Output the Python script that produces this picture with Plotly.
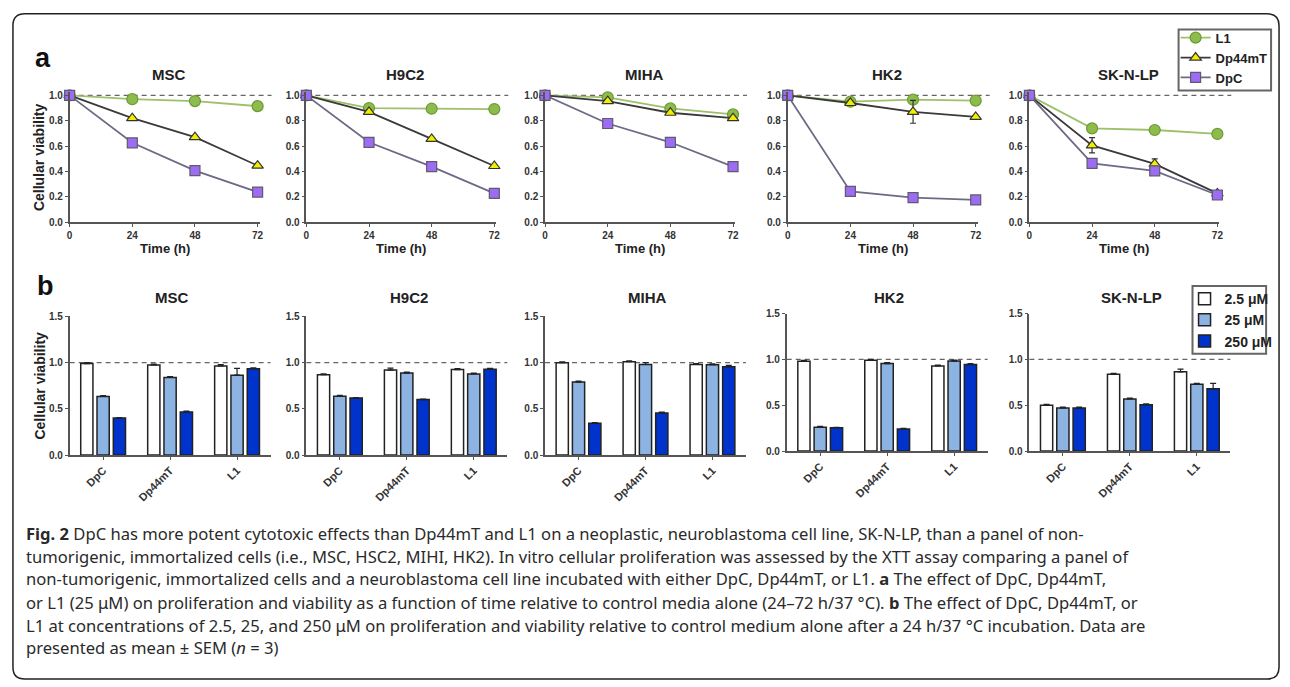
import plotly.graph_objects as go

# ---------------- data ----------------
CELLS = ["MSC", "H9C2", "MIHA", "HK2", "SK-N-LP"]
TIMES = [0, 24, 48, 72]
TIME_TICKS = [0, 24, 48, 72]

# Panel a: viability vs time (25 uM), one row per cell line
L1_TIME = [
    [1.0, 0.970, 0.955, 0.915],
    [1.0, 0.900, 0.895, 0.892],
    [1.0, 0.985, 0.897, 0.850],
    [1.0, 0.950, 0.966, 0.959],
    [1.0, 0.740, 0.727, 0.696],
]
L1_TIME_ERR = [
    [0, 0.010, 0.035, 0.030],
    [0, 0.020, 0.010, 0.010],
    [0, 0.015, 0.010, 0.010],
    [0, 0.010, 0.010, 0.010],
    [0, 0.010, 0.010, 0.010],
]
DP44_TIME = [
    [1.0, 0.820, 0.670, 0.446],
    [1.0, 0.870, 0.657, 0.443],
    [1.0, 0.954, 0.863, 0.820],
    [1.0, 0.940, 0.870, 0.830],
    [1.0, 0.606, 0.459, 0.227],
]
DP44_TIME_ERR = [
    [0, 0.010, 0.010, 0.010],
    [0, 0.015, 0.010, 0.010],
    [0, 0.010, 0.010, 0.010],
    [0, 0.015, 0.090, 0.010],
    [0, 0.060, 0.040, 0.010],
]
DPC_TIME = [
    [1.0, 0.626, 0.407, 0.237],
    [1.0, 0.630, 0.438, 0.227],
    [1.0, 0.778, 0.630, 0.438],
    [1.0, 0.242, 0.193, 0.175],
    [1.0, 0.464, 0.405, 0.214],
]
DPC_TIME_ERR = [
    [0, 0.010, 0.010, 0.010],
    [0, 0.010, 0.010, 0.010],
    [0, 0.010, 0.030, 0.010],
    [0, 0.010, 0.010, 0.010],
    [0, 0.030, 0.010, 0.010],
]

# Panel b: viability at 24 h by drug and concentration
DRUGS = ["DpC", "Dp44mT", "L1"]
CONC_NAMES = ["2.5 μM", "25 μM", "250 μM"]
CONC_2_5 = [
    [0.990, 0.975, 0.964],
    [0.870, 0.920, 0.925],
    [1.000, 1.010, 0.980],
    [0.980, 0.990, 0.929],
    [0.500, 0.839, 0.864],
]
CONC_25 = [
    [0.634, 0.840, 0.864],
    [0.637, 0.887, 0.878],
    [0.790, 0.980, 0.978],
    [0.260, 0.954, 0.982],
    [0.471, 0.568, 0.729],
]
CONC_250 = [
    [0.400, 0.466, 0.935],
    [0.616, 0.600, 0.928],
    [0.345, 0.455, 0.956],
    [0.255, 0.242, 0.943],
    [0.471, 0.504, 0.679],
]
ERR_2_5 = [
    [0.010, 0.010, 0.015],
    [0.010, 0.020, 0.010],
    [0.010, 0.010, 0.010],
    [0.010, 0.010, 0.010],
    [0.010, 0.010, 0.030],
]
ERR_25 = [
    [0.010, 0.010, 0.075],
    [0.010, 0.010, 0.010],
    [0.010, 0.020, 0.010],
    [0.010, 0.010, 0.010],
    [0.010, 0.010, 0.010],
]
ERR_250 = [
    [0.005, 0.010, 0.010],
    [0.005, 0.005, 0.010],
    [0.005, 0.010, 0.015],
    [0.005, 0.005, 0.010],
    [0.010, 0.010, 0.060],
]

CAPTION_LINES = [
    "<b>Fig. 2</b> DpC has more potent cytotoxic effects than Dp44mT and L1 on a neoplastic, neuroblastoma cell line, SK-N-LP, than a panel of non-",
    "tumorigenic, immortalized cells (i.e., MSC, HSC2, MIHI, HK2). In vitro cellular proliferation was assessed by the XTT assay comparing a panel of",
    "non-tumorigenic, immortalized cells and a neuroblastoma cell line incubated with either DpC, Dp44mT, or L1. <b>a</b> The effect of DpC, Dp44mT,",
    "or L1 (25 μM) on proliferation and viability as a function of time relative to control media alone (24–72 h/37 °C). <b>b</b> The effect of DpC, Dp44mT, or",
    "L1 at concentrations of 2.5, 25, and 250 μM on proliferation and viability relative to control medium alone after a 24 h/37 °C incubation. Data are",
    "presented as mean ± SEM (<i>n</i> = 3)",
]

# ---------------- layout geometry (pixels) ----------------
W, H = 1290, 687


def fx(p):
    return p / W


def fy(p):
    return 1 - p / H


A_LEFT = [67, 305, 545, 789, 1032]
A_WIDTH = 191
A_TOP, A_BOTTOM = 88, 220
A_DASH = 203
B_LEFT = [67, 305, 545, 788, 1032]
B_WIDTH = 202
B_TOP = [316, 316, 316, 313, 313]
B_BOTTOM = [457, 457, 457, 453, 453]

FONT = "Liberation Sans, Arial, sans-serif"
AX_COL = "#555555"
TXT_COL = "#333333"
tickfont = dict(family=FONT, size=10, color=TXT_COL, weight="bold")

SERIES = [
    ("L1", L1_TIME, L1_TIME_ERR, "#9dc06a", "#8dbb4c", "#6d9a35", "circle", 11),
    ("Dp44mT", DP44_TIME, DP44_TIME_ERR, "#3a3a3a", "#f2ee00", "#333333", "triangle-up", 10),
    ("DpC", DPC_TIME, DPC_TIME_ERR, "#6e6a85", "#9d6cf2", "#5c5c6e", "square", 10),
]
BAR_SERIES = [
    (CONC_NAMES[0], CONC_2_5, ERR_2_5, "#ffffff"),
    (CONC_NAMES[1], CONC_25, ERR_25, "#8db3e2"),
    (CONC_NAMES[2], CONC_250, ERR_250, "#0033cc"),
]

fig = go.Figure()
layout = {}
shapes = []
annotations = []


def axname(n):
    return ("" if n == 1 else str(n))


common_axis = dict(
    showline=True, linecolor=AX_COL, linewidth=1.6, ticks="outside", ticklen=3,
    tickwidth=1.3, tickcolor=AX_COL, showgrid=False, zeroline=False,
    tickfont=tickfont, fixedrange=True,
)

# ---- panel a ----
for i, cell in enumerate(CELLS):
    n = i + 1
    s = axname(n)
    layout["xaxis" + s] = dict(
        common_axis, domain=[fx(A_LEFT[i]), fx(A_LEFT[i] + A_WIDTH)], anchor="y" + s,
        range=[0, 72.76], tickvals=TIME_TICKS,
    )
    layout["yaxis" + s] = dict(
        common_axis, domain=[fy(A_BOTTOM), fy(A_TOP)], anchor="x" + s,
        range=[0, 1.023], tickvals=[0, 0.2, 0.4, 0.6, 0.8, 1.0], tickformat=".1f",
    )
    shapes.append(dict(type="line", xref="paper", yref="y" + s,
                       x0=fx(A_LEFT[i]), x1=fx(A_LEFT[i] + A_DASH), y0=1, y1=1,
                       line=dict(color="#666666", width=1.3, dash="5px,4px"), layer="below"))
    for name, vals, errs, lcol, mfill, mline, sym, msize in SERIES:
        fig.add_trace(go.Scatter(
            x=TIMES, y=vals[i], name=name, mode="lines+markers",
            xaxis="x" + s, yaxis="y" + s, cliponaxis=False,
            line=dict(color=lcol, width=1.8),
            marker=dict(symbol=sym, size=msize, color=mfill, line=dict(color=mline, width=1.2)),
            error_y=dict(type="data", array=errs[i], visible=True, color="#333333",
                         thickness=1.2, width=3),
            showlegend=(i == 0), legend="legend",
        ))
    annotations.append(dict(text="<b>%s</b>" % cell, xref="x%s domain" % s, x=0.5,
                            yref="paper", y=fy(70), yanchor="middle", xanchor="center",
                            xshift=4, showarrow=False,
                            font=dict(family=FONT, size=15, color="#222222")))
    annotations.append(dict(text="<b>Time (h)</b>", xref="x%s domain" % s, x=0.5,
                            yref="paper", y=fy(247), yanchor="middle", xanchor="center",
                            showarrow=False, font=dict(family=FONT, size=13, color="#222222")))

# ---- panel b ----
for i, cell in enumerate(CELLS):
    n = i + 6
    s = axname(n)
    layout["xaxis" + s] = dict(
        common_axis, domain=[fx(B_LEFT[i]), fx(B_LEFT[i] + B_WIDTH)], anchor="y" + s,
        type="category", categoryorder="array", categoryarray=DRUGS, tickangle=-45,
        tickfont=dict(family=FONT, size=11, color=TXT_COL, weight="bold"),
    )
    layout["yaxis" + s] = dict(
        common_axis, domain=[fy(B_BOTTOM[i]), fy(B_TOP[i])], anchor="x" + s,
        range=[0, 1.5], tickvals=[0, 0.5, 1.0, 1.5], tickformat=".1f",
    )
    shapes.append(dict(type="line", xref="paper", yref="y" + s,
                       x0=fx(B_LEFT[i]), x1=fx(B_LEFT[i] + B_WIDTH), y0=1, y1=1,
                       line=dict(color="#666666", width=1.3, dash="5px,4px"), layer="below"))
    for name, vals, errs, col in BAR_SERIES:
        fig.add_trace(go.Bar(
            x=DRUGS, y=vals[i], name=name, xaxis="x" + s, yaxis="y" + s,
            marker=dict(color=col, line=dict(color="#222222", width=1.5)),
            error_y=dict(type="data", array=errs[i], arrayminus=[0] * len(DRUGS),
                         visible=True, color="#222222", thickness=1.2, width=3),
            showlegend=(i == 0), legend="legend2",
        ))
    annotations.append(dict(text="<b>%s</b>" % cell, xref="x%s domain" % s, x=0.5,
                            yref="paper", y=fy(297), yanchor="middle", xanchor="center",
                            xshift=2, showarrow=False,
                            font=dict(family=FONT, size=15, color="#222222")))

# y-axis titles and panel letters
for ycen in [(A_TOP + A_BOTTOM) / 2, (B_TOP[0] + B_BOTTOM[0]) / 2]:
    annotations.append(dict(text="<b>Cellular viability</b>", xref="paper", x=fx(37),
                            yref="paper", y=fy(ycen), textangle=-90, showarrow=False,
                            xanchor="center", yanchor="middle",
                            font=dict(family=FONT, size=14, color="#222222")))
annotations.append(dict(text="<b>a</b>", xref="paper", x=fx(40), yref="paper", y=fy(53),
                        showarrow=False, xanchor="center", yanchor="middle",
                        font=dict(family=FONT, size=27, color="#111111")))
annotations.append(dict(text="<b>b</b>", xref="paper", x=fx(43), yref="paper", y=fy(285),
                        showarrow=False, xanchor="center", yanchor="middle",
                        font=dict(family=FONT, size=27, color="#111111")))

# caption
CAP_Y = [537, 560, 583, 607, 631, 653]
for line, yy in zip(CAPTION_LINES, CAP_Y):
    annotations.append(dict(text=line, xref="paper", x=fx(21), yref="paper", y=fy(yy),
                            xanchor="left", yanchor="middle", showarrow=False,
                            font=dict(family="Noto Sans, Open Sans, sans-serif", size=16.6,
                                      color="#2a2a2a")))

# legend boxes (drawn as shapes so their size matches the reference)
for bx0, by0, bx1, by1 in [(1182, 24, 1275, 86), (1196, 285, 1270, 354)]:
    shapes.append(dict(type="rect", xref="paper", yref="paper",
                       x0=fx(bx0), x1=fx(bx1), y0=fy(by1), y1=fy(by0),
                       line=dict(color="#666666", width=2), fillcolor="white", layer="below"))

# outer rounded border
x0, x1, y0, y1, r = 10, 1283, 8, 685, 12


def P(px, py):
    return "%.6f,%.6f" % (fx(px), fy(py))


path = ("M " + P(x0 + r, y0) + " L " + P(x1 - r, y0) + " Q " + P(x1, y0) + " " + P(x1, y0 + r) +
        " L " + P(x1, y1 - r) + " Q " + P(x1, y1) + " " + P(x1 - r, y1) +
        " L " + P(x0 + r, y1) + " Q " + P(x0, y1) + " " + P(x0, y1 - r) +
        " L " + P(x0, y0 + r) + " Q " + P(x0, y0) + " " + P(x0 + r, y0) + " Z")
shapes.append(dict(type="path", xref="paper", yref="paper", path=path,
                   line=dict(color="#222222", width=1.5), fillcolor="rgba(0,0,0,0)"))

layout.update(
    width=W, height=H, margin=dict(l=0, r=0, t=0, b=0),
    paper_bgcolor="white", plot_bgcolor="rgba(0,0,0,0)",
    barmode="group", bargap=0.27, bargroupgap=0.25,
    shapes=shapes, annotations=annotations,
    legend=dict(x=fx(1179), y=fy(17), xanchor="left", yanchor="top",
                borderwidth=0, bgcolor="rgba(0,0,0,0)",
                font=dict(family=FONT, size=13, color="#222222", weight="bold"),
                tracegroupgap=0, itemwidth=30),
    legend2=dict(x=fx(1188), y=fy(282), xanchor="left", yanchor="top",
                 borderwidth=0, bgcolor="rgba(0,0,0,0)",
                 font=dict(family=FONT, size=14, color="#222222", weight="bold"),
                 tracegroupgap=0, itemwidth=30),
    showlegend=True,
)
fig.update_layout(layout)

fig.write_html("out.html", config={"displayModeBar": False},
               post_script="document.body.style.margin='0';document.body.style.overflow='hidden';")
